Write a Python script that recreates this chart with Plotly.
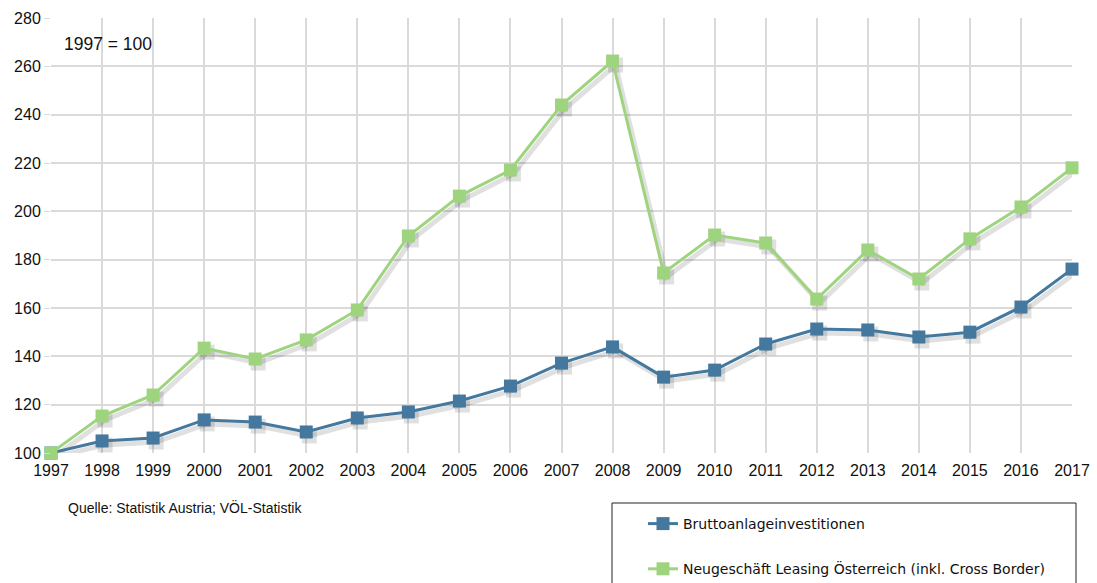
import plotly.graph_objects as go

years = list(range(1997, 2018))
brutto = [100, 105, 106.2, 113.7, 112.8, 108.7, 114.5, 117, 121.5, 127.7, 137.2,
          143.9, 131.4, 134.3, 145.1, 151.3, 150.9, 148, 150, 160.4, 176.1]
leasing = [100, 115.3, 124, 143.4, 138.9, 146.8, 159.2, 189.8, 206.3, 217.1, 244,
           262.2, 174.5, 190.2, 186.9, 163.7, 184, 172, 188.6, 201.8, 218]
names = ["Bruttoanlageinvestitionen",
         "Neugeschäft Leasing Österreich (inkl. Cross Border)"]
colors = ["#44789e", "#9fd47f"]
tick_vals = list(range(100, 281, 20))

W, H = 1097, 583
plot_w, plot_h = 1021, 435
x0, x1 = 1997, 2017
y0, y1 = 100, 280
dx = 3 * (x1 - x0) / plot_w
dy = 4 * (y1 - y0) / plot_h

fig = go.Figure()
fig.add_trace(go.Scatter(x=years, y=brutto, mode="lines", line=dict(width=0),
                         showlegend=False, hoverinfo="skip", xaxis="x", yaxis="y"))
for ser in (brutto, leasing):
    fig.add_trace(go.Scatter(x=years, y=ser, mode="lines+markers",
                             line=dict(color="rgba(0,0,0,0.12)", width=5),
                             marker=dict(symbol="square", size=15, color="rgba(0,0,0,0.12)"),
                             showlegend=False, hoverinfo="skip", cliponaxis=False,
                             xaxis="x2", yaxis="y2"))
for ser, nm, c, g in zip((brutto, leasing), names, colors, ("a", "b")):
    fig.add_trace(go.Scatter(x=years, y=ser, mode="lines+markers", name=nm,
                             line=dict(color=c, width=3),
                             marker=dict(symbol="square", size=13, color=c),
                             cliponaxis=False, legendgroup=g,
                             xaxis="x3", yaxis="y3"))

axis_common = dict(showline=False, zeroline=False)
fig.update_layout(
    width=W, height=H,
    margin=dict(l=51, r=W - 51 - plot_w, t=18, b=H - 18 - plot_h, autoexpand=False),
    paper_bgcolor="white", plot_bgcolor="white",
    font=dict(family="Liberation Sans, Arial", size=16, color="#111"),
    xaxis=dict(range=[x0, x1], tickvals=years, ticktext=[str(y) for y in years],
               showgrid=True, gridcolor="#dadada", gridwidth=1.5,
               ticks="", ticklen=0, ticklabelstandoff=6,
               tickfont=dict(size=16), **axis_common),
    yaxis=dict(range=[y0, y1], tickvals=tick_vals, showgrid=True,
               gridcolor="#dadada", gridwidth=1.5, ticks="outside", ticklen=6,
               tickcolor="#dadada", tickfont=dict(size=16), **axis_common),
    xaxis2=dict(range=[x0 - dx, x1 - dx], overlaying="x", visible=False),
    yaxis2=dict(range=[y0 + dy, y1 + dy], overlaying="y", visible=False),
    xaxis3=dict(range=[x0, x1], overlaying="x", visible=False),
    yaxis3=dict(range=[y0, y1], overlaying="y", visible=False),
    showlegend=True,
    legend=dict(xref="container", yref="container",
                x=643 / W, y=1 - 508 / H, xanchor="left", yanchor="top",
                bgcolor="rgba(0,0,0,0)", borderwidth=0,
                font=dict(family="DejaVu Sans", size=14, color="#111"),
                tracegroupgap=24, itemwidth=30),
    shapes=[dict(type="rect", xref="paper", yref="paper",
                 x0=(612 - 51) / plot_w, x1=(1076 - 51) / plot_w,
                 y0=-0.35, y1=(453 - 503) / plot_h,
                 line=dict(color="#222", width=1))],
    annotations=[
        dict(text="1997 = 100", xref="paper", yref="paper",
             x=(62 - 51) / plot_w, y=(453 - 44) / plot_h, xanchor="left",
             yanchor="middle", showarrow=False, font=dict(size=17.5, color="#111")),
        dict(text="Quelle: Statistik Austria; VÖL-Statistik", xref="paper", yref="paper",
             x=(66 - 51) / plot_w, y=(453 - 507) / plot_h, xanchor="left",
             yanchor="middle", showarrow=False, font=dict(size=14, color="#111")),
    ],
)
fig.write_html("out.html")
